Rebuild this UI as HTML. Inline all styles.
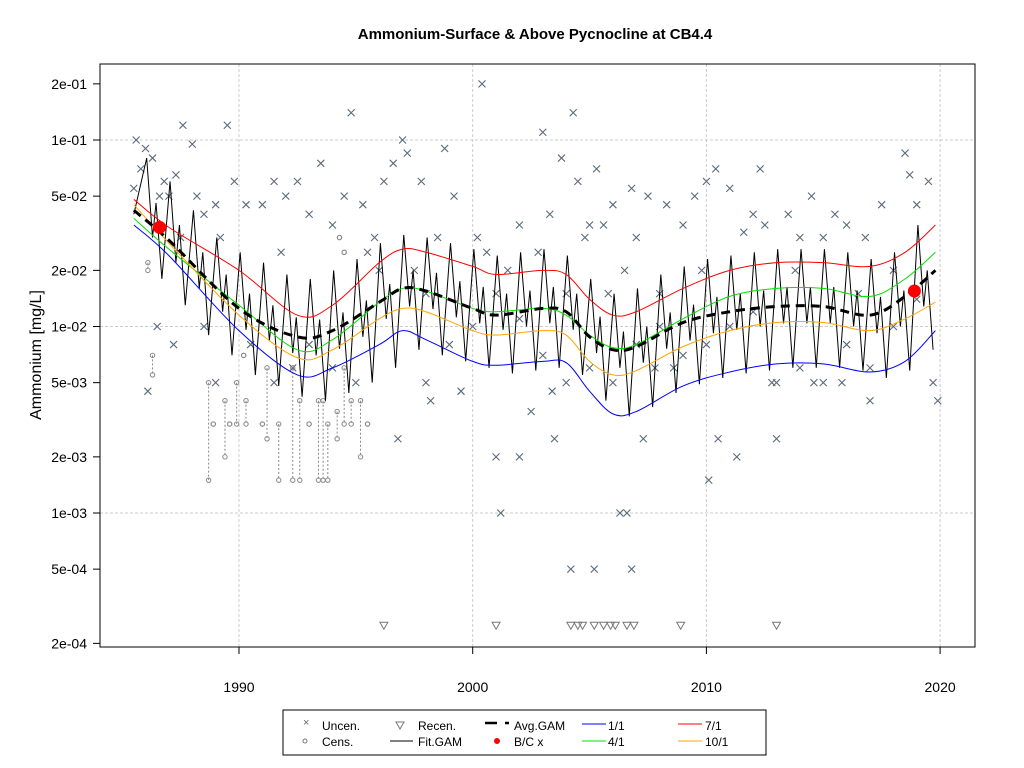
<!DOCTYPE html>
<html><head><meta charset="utf-8"><style>
body{margin:0;background:#fff;}
svg{display:block;font-family:"Liberation Sans",Arial,sans-serif;}
</style></head><body>
<svg id="chart" width="1024" height="768">
<text x="535" y="39" text-anchor="middle" font-size="15" font-weight="bold">Ammonium-Surface &amp; Above Pycnocline at CB4.4</text>
<text transform="translate(41,355) rotate(-90)" text-anchor="middle" font-size="16">Ammonium [mg/L]</text>
<g id="grid"></g><g id="axes"></g><g id="marks"></g>
<rect x="100" y="64" width="875" height="583" fill="none" stroke="#000"/>
<g>
<rect x="283" y="710" width="483" height="45" fill="#fff" stroke="#000"/>
<g font-size="12">
<text x="303" y="726" fill="#666" font-size="11">×</text><text x="322" y="730">Uncen.</text>
<circle cx="305" cy="741" r="2" fill="none" stroke="#777"/><text x="322" y="746">Cens.</text>
<path d="M396,722 L404,722 L400,729 Z" fill="none" stroke="#777"/><text x="418" y="730">Recen.</text>
<line x1="390" y1="741" x2="413" y2="741" stroke="#000"/><text x="418" y="746">Fit.GAM</text>
<path d="M485,723 h12 M505,723 h4" stroke="#000" stroke-width="2.5"/><text x="514" y="730">Avg.GAM</text>
<circle cx="497" cy="741" r="3" fill="red"/><text x="514" y="746">B/C x</text>
<line x1="582" y1="724" x2="606" y2="724" stroke="blue"/><text x="608" y="730">1/1</text>
<line x1="582" y1="741" x2="606" y2="741" stroke="#00e000"/><text x="608" y="746">4/1</text>
<line x1="678" y1="724" x2="702" y2="724" stroke="red"/><text x="705" y="730">7/1</text>
<line x1="678" y1="741" x2="702" y2="741" stroke="orange"/><text x="705" y="746">10/1</text>
</g></g>
</svg>
<script>
const xTicks=[1990,2000,2010,2020];
const yTicks=[0.2,0.1,0.05,0.02,0.01,0.005,0.002,0.001,0.0005,0.0002];
const yTickLabels=["2e-01","1e-01","5e-02","2e-02","1e-02","5e-03","2e-03","1e-03","5e-04","2e-04"];
const gridY=[0.1,0.01,0.001];
const uncen=[[1985.6,0.1],[1985.8,0.07],[1986,0.09],[1986.3,0.08],[1985.5,0.055],[1986.1,0.0045],[1986.6,0.05],[1986.8,0.06],[1987,0.05],[1987.3,0.065],[1987.6,0.12],[1988,0.095],[1988.2,0.05],[1988.5,0.04],[1989,0.045],[1989.5,0.12],[1989.8,0.06],[1990.3,0.045],[1991,0.045],[1991.5,0.06],[1992,0.05],[1992.5,0.06],[1993,0.04],[1993.5,0.075],[1994,0.035],[1994.5,0.05],[1994.8,0.14],[1995.3,0.045],[1995.8,0.03],[1996.2,0.06],[1996.6,0.075],[1997,0.1],[1997.2,0.085],[1997.8,0.06],[1998.5,0.03],[1998.8,0.09],[1999.2,0.05],[2000.4,0.2],[2000.6,0.025],[1999.5,0.0045],[1998,0.005],[2001,0.002],[2001.2,0.001],[2001.5,0.02],[2002,0.035],[2002.5,0.0035],[2003,0.11],[2003.3,0.04],[2003.8,0.08],[2004,0.015],[2004.3,0.14],[2004.5,0.06],[2004.8,0.03],[2005,0.035],[2005.3,0.07],[2005.6,0.035],[2006,0.045],[2006.5,0.02],[2006.8,0.055],[2007,0.03],[2007.5,0.05],[2008,0.015],[2008.3,0.045],[2008.6,0.006],[2009,0.035],[2009.5,0.05],[2010,0.06],[2010.1,0.0015],[2010.5,0.0025],[2010.4,0.07],[2011,0.055],[2011.3,0.002],[2011.6,0.032],[2012,0.04],[2012.3,0.07],[2012.5,0.035],[2013,0.0025],[2013.5,0.04],[2014,0.03],[2014.5,0.05],[2015,0.03],[2015.5,0.04],[2016,0.035],[2016.5,0.015],[2017,0.004],[2017.5,0.045],[2018,0.02],[2018.5,0.085],[2018.7,0.065],[2019,0.045],[2019.5,0.06],[2019.7,0.005],[2019.9,0.004],[2005.2,0.0005],[2004.2,0.0005],[2006.3,0.001],[2006.6,0.001],[2006.8,0.0005],[2007.3,0.0025],[2003.5,0.0025],[2002,0.002],[1987.5,0.03],[1988.5,0.01],[1989,0.005],[1990.5,0.008],[1991.5,0.005],[1992.3,0.006],[1993,0.008],[1994,0.006],[1995,0.005],[1996,0.02],[1997.5,0.02],[1998.2,0.004],[1999,0.008],[2000,0.01],[2001,0.015],[2002,0.011],[2003,0.007],[2004,0.005],[2005,0.006],[2006,0.005],[2007,0.008],[2008,0.01],[2009,0.007],[2010,0.008],[2011,0.01],[2012,0.012],[2013,0.005],[2014,0.006],[2015,0.005],[2016,0.008],[2017,0.006],[2018,0.01],[2019,0.014],[1986.5,0.01],[1987.2,0.008],[1996.8,0.0025],[2003.4,0.0045],[2012.8,0.005],[2015.8,0.005],[1989.2,0.03],[1991.8,0.025],[1995.5,0.025],[1998,0.015],[2000.2,0.03],[2002.8,0.025],[2005.8,0.015],[2009.8,0.02],[2013.8,0.02],[2016.8,0.03],[2007.8,0.006],[2014.6,0.005]];
const cens=[[1986.1,0.022,0.02],[1986.3,0.007,0.0055],[1988.7,0.005,0.0015],[1988.9,0.003,0.003],[1989.4,0.004,0.002],[1989.6,0.003,0.003],[1989.9,0.005,0.003],[1990.3,0.004,0.003],[1991,0.003,0.003],[1991.2,0.006,0.0025],[1991.7,0.003,0.0015],[1992.3,0.006,0.0015],[1992.6,0.004,0.0015],[1993,0.003,0.003],[1993.4,0.004,0.0015],[1993.6,0.004,0.0015],[1993.8,0.003,0.0015],[1994.2,0.0035,0.0025],[1994.5,0.006,0.003],[1994.8,0.004,0.003],[1995.2,0.004,0.002],[1995.5,0.003,0.003],[1994.3,0.03,0.03],[1994.5,0.025,0.025],[1990.2,0.007,0.007]];
const recen=[1996.2,2001,2004.2,2004.5,2004.7,2005.2,2005.6,2005.9,2006.1,2006.6,2006.9,2008.9,2013];
const recenValue=0.00025;
const fitYears=[1986,1987,1988,1989,1990,1991,1992,1993,1994,1995,1996,1997,1998,1999,2000,2001,2002,2003,2004,2005,2006,2007,2008,2009,2010,2011,2012,2013,2014,2015,2016,2017,2018,2019];
const fitPeaks=[0.08,0.06,0.042,0.03,0.025,0.022,0.019,0.018,0.02,0.023,0.028,0.031,0.03,0.028,0.026,0.024,0.025,0.026,0.024,0.018,0.015,0.016,0.019,0.021,0.023,0.024,0.025,0.026,0.026,0.026,0.025,0.023,0.025,0.035];
const fitDips=[0.03,0.022,0.016,0.012,0.0096,0.0084,0.0072,0.007,0.0076,0.0088,0.011,0.0128,0.0124,0.0112,0.0104,0.0096,0.01,0.0104,0.0096,0.0072,0.006,0.0064,0.0076,0.0084,0.0092,0.0096,0.01,0.0104,0.0104,0.0104,0.01,0.0092,0.01,0.0128];
const fitBumps=[0.046,0.035,0.025,0.019,0.015,0.013,0.0112,0.0109,0.0119,0.0138,0.0169,0.02,0.0194,0.0175,0.0163,0.015,0.0156,0.0163,0.015,0.0113,0.0094,0.01,0.0119,0.0131,0.0144,0.015,0.0156,0.0163,0.0163,0.0163,0.0156,0.0144,0.0156,0.02];
const fitTroughs=[0.018,0.013,0.009,0.007,0.0055,0.0048,0.0042,0.004,0.0044,0.005,0.006,0.0075,0.007,0.0065,0.006,0.0056,0.0058,0.006,0.0055,0.004,0.0033,0.0037,0.0044,0.0049,0.0053,0.0056,0.0058,0.006,0.006,0.006,0.0058,0.0053,0.0058,0.0075];
const curveYears=[1985.5,1987,1990,1992.5,1994,1996,1997,1998,2000,2001,2003,2004,2005,2006,2007,2009,2011,2013,2015,2017,2018.5,2019.8];
const avgGam=[0.042,0.029,0.0125,0.0088,0.0095,0.0135,0.016,0.0155,0.0125,0.0115,0.0125,0.012,0.0088,0.0075,0.0078,0.0105,0.012,0.0128,0.0128,0.0115,0.0145,0.02];
const q71=[0.048,0.034,0.02,0.0115,0.013,0.022,0.026,0.025,0.021,0.019,0.02,0.019,0.014,0.0115,0.012,0.016,0.02,0.022,0.022,0.021,0.025,0.035];
const q41=[0.038,0.026,0.013,0.0075,0.0085,0.0135,0.016,0.0155,0.0125,0.012,0.0125,0.0115,0.009,0.0077,0.008,0.011,0.0145,0.016,0.016,0.0145,0.018,0.025];
const q101=[0.045,0.028,0.0115,0.0068,0.0075,0.011,0.0125,0.012,0.0095,0.009,0.0095,0.009,0.0065,0.0055,0.0058,0.0078,0.0095,0.0105,0.0105,0.0095,0.011,0.0135];
const q11=[0.035,0.024,0.0095,0.0055,0.006,0.008,0.0095,0.0085,0.0065,0.0062,0.0065,0.0064,0.0045,0.0034,0.0035,0.0048,0.0057,0.0063,0.0063,0.0057,0.0065,0.0095];
const bcYears=[1986.6,2018.9];
const bcValues=[0.034,0.0155];

const NS="http://www.w3.org/2000/svg";
const X=yr=>239+(yr-1990)*23.37;
const Y=v=>140+(-1-Math.log10(v))*186.5;
function mk(tag,attrs,parent){const e=document.createElementNS(NS,tag);for(const k in attrs)e.setAttribute(k,attrs[k]);parent.appendChild(e);return e;}
const grid=document.getElementById('grid'),axes=document.getElementById('axes'),marks=document.getElementById('marks');
xTicks.forEach(t=>{
 const l=mk('line',{x1:X(t),x2:X(t),y1:64,y2:647,stroke:'#ccc','stroke-dasharray':'3,2'},grid);
 
 
 const tk=mk('line',{x1:X(t),x2:X(t),y1:647,y2:654,stroke:'#000'},axes);
 
 
 const tx=mk('text',{x:X(t),y:692,'text-anchor':'middle','font-size':14},axes);tx.textContent=t;
 
 
});
gridY.forEach(v=>{
 const l=mk('line',{x1:100,x2:975,y1:Y(v),y2:Y(v),stroke:'#ccc','stroke-dasharray':'3,2'},grid);
 
 
});
yTicks.forEach((v,i)=>{
 const tk=mk('line',{x1:93,x2:100,y1:Y(v),y2:Y(v),stroke:'#000'},axes);
 
 
 const tx=mk('text',{x:87,y:Y(v)+5,'text-anchor':'end','font-size':14},axes);tx.textContent=yTickLabels[i];
 
 
});
cens.forEach(c=>{
 if(c[1]!==c[2]){const l=mk('line',{x1:X(c[0]),x2:X(c[0]),y1:Y(c[1]),y2:Y(c[2]),stroke:'#888','stroke-dasharray':'2,2'},marks);
 
 }
 [c[1],c[2]].forEach(v=>{const p=mk('circle',{cx:X(c[0]),cy:Y(v),r:2.2,fill:'none',stroke:'#888'},marks);
 
 });
});
uncen.forEach(p=>{
 const x=X(p[0]),y=Y(p[1]);
 const e=mk('path',{d:`M${x-3.5},${y-3.5}L${x+3.5},${y+3.5}M${x-3.5},${y+3.5}L${x+3.5},${y-3.5}`,stroke:'#5a6a7a','stroke-width':1.1},marks);
 
 
});
recen.forEach(yr=>{
 const x=X(yr),y=Y(recenValue);
 const e=mk('path',{d:`M${x-4},${y-3}L${x+4},${y-3}L${x},${y+4}Z`,fill:'none',stroke:'#777'},marks);
 
 
});
let fd=`M${X(1985.5)},${Y(0.04)}`;
fitYears.forEach((yr,i)=>{fd+=`L${X(yr+0.05)},${Y(fitPeaks[i])}L${X(yr+0.3)},${Y(fitDips[i])}L${X(yr+0.45)},${Y(fitBumps[i])}L${X(yr+0.7)},${Y(fitTroughs[i])}`;});
const fit=mk('path',{d:fd,fill:'none',stroke:'#000','stroke-width':1},marks);


function smooth(xs,vs){
 const pts=xs.map((x,i)=>[X(x),Y(vs[i])]);let d=`M${pts[0][0]},${pts[0][1]}`;
 for(let i=0;i<pts.length-1;i++){const p0=pts[Math.max(0,i-1)],p1=pts[i],p2=pts[i+1],p3=pts[Math.min(pts.length-1,i+2)];
 d+=`C${p1[0]+(p2[0]-p0[0])/6},${p1[1]+(p2[1]-p0[1])/6} ${p2[0]-(p3[0]-p1[0])/6},${p2[1]-(p3[1]-p1[1])/6} ${p2[0]},${p2[1]}`;}
 return d;}
const curves=[[q11,'blue','quantile-1-1-line'],[q41,'#00e000','quantile-4-1-line'],[q101,'orange','quantile-10-1-line'],[q71,'red','quantile-7-1-line']];
curves.forEach(c=>{const e=mk('path',{d:smooth(curveYears,c[0]),fill:'none',stroke:c[1],'stroke-width':1},marks);
 
 });
const avg=mk('path',{d:smooth(curveYears,avgGam),fill:'none',stroke:'#000','stroke-width':3,'stroke-dasharray':'9,6'},marks);


bcYears.forEach((yr,i)=>{const e=mk('circle',{cx:X(yr),cy:Y(bcValues[i]),r:6.5,fill:'red'},marks);
 
 });
</script>
</body></html>
